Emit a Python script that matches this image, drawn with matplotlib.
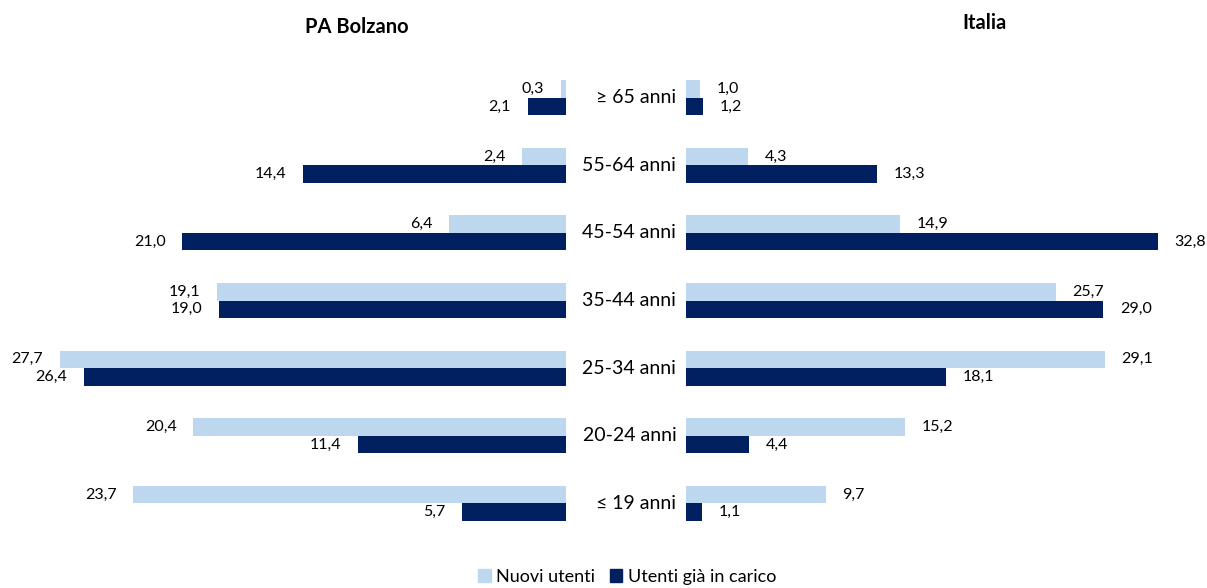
import matplotlib.pyplot as plt
from matplotlib.patches import Patch

plt.rcParams['font.family'] = ['Lato', 'DejaVu Sans']

# fasce d'età, dall'alto verso il basso
fasce = ["≥ 65 anni", "55-64 anni", "45-54 anni", "35-44 anni",
         "25-34 anni", "20-24 anni", "≤ 19 anni"]

bolzano_nuovi = [0.3, 2.4, 6.4, 19.1, 27.7, 20.4, 23.7]
bolzano_carico = [2.1, 14.4, 21.0, 19.0, 26.4, 11.4, 5.7]
italia_nuovi = [1.0, 4.3, 14.9, 25.7, 29.1, 15.2, 9.7]
italia_carico = [1.2, 13.3, 32.8, 29.0, 18.1, 4.4, 1.1]

col_nuovi = '#BDD7EE'
col_carico = '#002060'

W, H = 1207, 588
fig = plt.figure(figsize=(W / 100, H / 100), dpi=100)

top, bottom = 64, 537
h = (bottom - top) / H
y0 = 1 - bottom / H

ax_l = fig.add_axes([0, y0, 566 / W, h])
ax_r = fig.add_axes([686 / W, y0, (W - 686) / W, h])

pos = list(range(len(fasce)))
bh = 0.26
fs_val = 11.5


def fmt(v):
    return f"{v:.1f}".replace('.', ',')


# PA Bolzano: barre verso sinistra
ax_l.barh([p - bh / 2 for p in pos], bolzano_nuovi, height=bh, color=col_nuovi)
ax_l.barh([p + bh / 2 for p in pos], bolzano_carico, height=bh, color=col_carico)
ax_l.set_xlim(566 / 18.27, 0)
for p, v in zip(pos, bolzano_nuovi):
    ax_l.annotate(fmt(v), (v, p - bh / 2), xytext=(-12, 0), textcoords='offset points',
                  ha='right', va='center', fontsize=fs_val)
for p, v in zip(pos, bolzano_carico):
    ax_l.annotate(fmt(v), (v, p + bh / 2), xytext=(-12, 0), textcoords='offset points',
                  ha='right', va='center', fontsize=fs_val)

# Italia: barre verso destra
ax_r.barh([p - bh / 2 for p in pos], italia_nuovi, height=bh, color=col_nuovi)
ax_r.barh([p + bh / 2 for p in pos], italia_carico, height=bh, color=col_carico)
ax_r.set_xlim(0, (W - 686) / 14.39)
for p, v in zip(pos, italia_nuovi):
    ax_r.annotate(fmt(v), (v, p - bh / 2), xytext=(12, 0), textcoords='offset points',
                  ha='left', va='center', fontsize=fs_val)
for p, v in zip(pos, italia_carico):
    ax_r.annotate(fmt(v), (v, p + bh / 2), xytext=(12, 0), textcoords='offset points',
                  ha='left', va='center', fontsize=fs_val)

for ax in (ax_l, ax_r):
    ax.set_ylim(len(fasce) - 0.5, -0.5)
    ax.axis('off')

# etichette delle fasce al centro
for p, f in zip(pos, fasce):
    ax_r.annotate(f, (0, p), xytext=(-7, 0), textcoords='offset points',
                  ha='right', va='center', fontsize=14, annotation_clip=False)

fig.text(357 / W, 1 - 27 / H, "PA Bolzano", ha='center', va='center',
         fontsize=14.5, fontweight='bold')
fig.text(985 / W, 1 - 23 / H, "Italia", ha='center', va='center',
         fontsize=14.5, fontweight='bold')

handles = [Patch(color=col_nuovi, label="Nuovi utenti"),
           Patch(color=col_carico, label="Utenti già in carico")]
fig.legend(handles=handles, loc='center', bbox_to_anchor=(627 / W, 1 - 577 / H),
           ncol=2, frameon=False, fontsize=13, handlelength=0.7, handleheight=0.7,
           handletextpad=0.3, columnspacing=0.8)

fig.savefig('out.png', dpi=100)
